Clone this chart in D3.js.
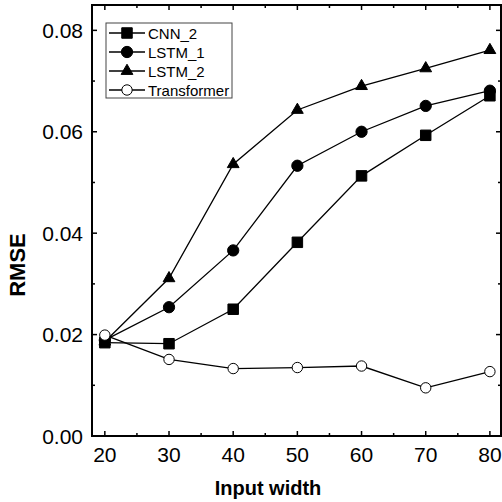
<!DOCTYPE html>
<html>
<head>
<meta charset="utf-8">
<script src="https://cdn.jsdelivr.net/npm/d3@7"></script>
<style>
  html, body { margin: 0; padding: 0; background: #fff; }
  svg { display: block; font-family: "Liberation Sans", Arial, sans-serif; }
</style>
</head>
<body>
<svg id="chart" width="502" height="502"></svg>
<script>
// Input widths (x) and RMSE for each model
const inputWidths = [20, 30, 40, 50, 60, 70, 80];
const cnn2        = [0.0184, 0.0182, 0.0250, 0.0382, 0.0513, 0.0593, 0.0671];
const lstm1       = [0.0189, 0.0254, 0.0366, 0.0533, 0.0600, 0.0651, 0.0681];
const lstm2       = [0.0186, 0.0311, 0.0536, 0.0643, 0.0690, 0.0725, 0.0761];
const transformer = [0.0199, 0.0151, 0.0133, 0.0135, 0.0138, 0.0095, 0.0127];
const seriesNames = ["CNN_2", "LSTM_1", "LSTM_2", "Transformer"];
const xTicks = [20, 30, 40, 50, 60, 70, 80];
const yTicks = [0.00, 0.02, 0.04, 0.06, 0.08];

const series = [
  { name: seriesNames[0], values: cnn2,        symbol: d3.symbolSquare,   fill: "#000", size: 110 },
  { name: seriesNames[1], values: lstm1,       symbol: d3.symbolCircle,   fill: "#000", size: 100 },
  { name: seriesNames[2], values: lstm2,       symbol: d3.symbolTriangle, fill: "#000", size: 60 },
  { name: seriesNames[3], values: transformer, symbol: d3.symbolCircle,   fill: "#fff", size: 85 }
];

const svg = d3.select("#chart");
const plotL = 92, plotR = 501, plotT = 5, plotB = 436;

const x = d3.scaleLinear().domain([18, 81.73]).range([plotL, plotR]);
const y = d3.scaleLinear().domain([0, 0.085]).range([plotB, plotT]);

const xMinor = d3.range(25, 81, 10);
const yMinor = d3.range(0.01, 0.085, 0.02);

// Frame with inward ticks on all four sides
const g = svg.append("g").attr("stroke", "#000").attr("stroke-width", 1.5);

const xAll = xTicks.map(v => ({ v, len: 5 })).concat(xMinor.map(v => ({ v, len: 3 })));
const yAll = yTicks.map(v => ({ v, len: 5 })).concat(yMinor.map(v => ({ v, len: 3 })));

g.append("g").selectAll("line").data(xAll).join("line")
  .attr("x1", d => x(d.v)).attr("x2", d => x(d.v))
  .attr("y1", plotB).attr("y2", d => plotB - d.len);
g.append("g").selectAll("line").data(xAll).join("line")
  .attr("x1", d => x(d.v)).attr("x2", d => x(d.v))
  .attr("y1", plotT).attr("y2", d => plotT + d.len);
g.append("g").selectAll("line").data(yAll).join("line")
  .attr("y1", d => y(d.v)).attr("y2", d => y(d.v))
  .attr("x1", plotL).attr("x2", d => plotL + d.len);
g.append("g").selectAll("line").data(yAll).join("line")
  .attr("y1", d => y(d.v)).attr("y2", d => y(d.v))
  .attr("x1", plotR).attr("x2", d => plotR - d.len);

svg.append("rect")
  .attr("x", plotL).attr("y", plotT)
  .attr("width", plotR - plotL).attr("height", plotB - plotT)
  .attr("fill", "none").attr("stroke", "#000").attr("stroke-width", 2);

// Tick labels
svg.append("g").selectAll("text").data(xTicks).join("text")
  .attr("x", d => x(d)).attr("y", 462)
  .attr("text-anchor", "middle").attr("font-size", 21)
  .text(d => d);

svg.append("g").selectAll("text").data(yTicks).join("text")
  .attr("x", 83).attr("y", d => y(d) + 7.5)
  .attr("text-anchor", "end").attr("font-size", 21)
  .text(d => d3.format(".2f")(d));

// Axis titles
svg.append("text")
  .attr("x", 268).attr("y", 495)
  .attr("text-anchor", "middle").attr("font-size", 20).attr("font-weight", "bold")
  .text("Input width");

svg.append("text")
  .attr("transform", "translate(25,265) rotate(-90)")
  .attr("text-anchor", "middle").attr("font-size", 22).attr("font-weight", "bold")
  .text("RMSE");

// Lines and markers
const line = d3.line().x((d, i) => x(inputWidths[i])).y(d => y(d));

const sg = svg.append("g").selectAll("g").data(series).join("g");
sg.append("path")
  .attr("d", d => line(d.values))
  .attr("fill", "none").attr("stroke", "#000").attr("stroke-width", 1.3);

sg.selectAll("path.m").data(d => d.values.map((v, i) => ({ v, i, s: d }))).join("path")
  .attr("class", "m")
  .attr("transform", d => `translate(${x(inputWidths[d.i])},${y(d.v)})`)
  .attr("d", d => d3.symbol().type(d.s.symbol).size(d.s.size)())
  .attr("fill", d => d.s.fill).attr("stroke", "#000").attr("stroke-width", 1);

// Legend
const lg = svg.append("g").attr("transform", "translate(106,23)");
lg.append("rect")
  .attr("x", 0).attr("y", 0).attr("width", 126).attr("height", 75)
  .attr("fill", "#fff").attr("stroke", "#444").attr("stroke-width", 1);

const rows = lg.selectAll("g").data(series).join("g")
  .attr("transform", (d, i) => `translate(0,${10 + i * 19})`);
rows.append("line")
  .attr("x1", 3).attr("x2", 39).attr("y1", 0).attr("y2", 0)
  .attr("stroke", "#000").attr("stroke-width", 1.3);
rows.append("path")
  .attr("transform", "translate(21,0)")
  .attr("d", d => d3.symbol().type(d.symbol).size(d.size)())
  .attr("fill", d => d.fill).attr("stroke", "#000").attr("stroke-width", 1);
rows.append("text")
  .attr("x", 42).attr("y", 5.5)
  .attr("font-size", 15)
  .text(d => d.name);
</script>
</body>
</html>
